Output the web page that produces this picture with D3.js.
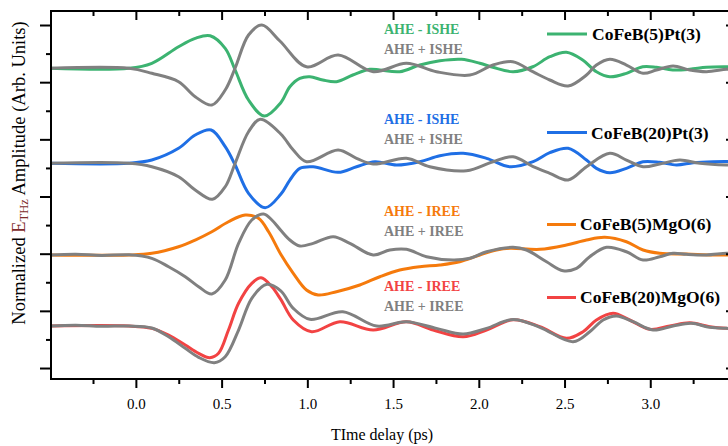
<!DOCTYPE html>
<html><head><meta charset="utf-8">
<script src="https://cdn.jsdelivr.net/npm/d3@7"></script>
<style>
html,body{margin:0;padding:0;background:#fff;}
svg{display:block;font-family:"Liberation Serif","Times New Roman",serif;}
</style></head>
<body><svg id="c" width="728" height="446"></svg>
<script>
// ---- data (time in ps, normalized amplitude incl. vertical offset) ----
const xMajorTicks = [0, 0.5, 1.0, 1.5, 2.0, 2.5, 3.0];
const xMinorTicks = [-0.25, 0.25, 0.75, 1.25, 1.75, 2.25, 2.75, 3.25];
const yMajorTicks = [0, 10, 20, 30, 40, 50, 60];
const yMinorTicks = [5, 15, 25, 35, 45, 55];

const seriesNames = ["CoFeB(5)Pt(3)", "CoFeB(20)Pt(3)", "CoFeB(5)MgO(6)", "CoFeB(20)MgO(6)"];
const diffLabels = ["AHE - ISHE", "AHE - ISHE", "AHE - IREE", "AHE - IREE"];
const sumLabels = ["AHE + ISHE", "AHE + ISHE", "AHE + IREE", "AHE + IREE"];

const green = [[-0.5,52.42],[-0.04,52.42],[0.093,53.30],[0.249,56.20],[0.346,57.67],[0.433,58.13],[0.521,55.92],[0.579,52.13],[0.657,46.88],[0.750,44.08],[0.845,46.4],[0.898,49.20],[0.956,50.67],[1.015,50.95],[1.090,50.38],[1.170,50.08],[1.265,51.25],[1.364,52.25],[1.423,52.13],[1.539,51.83],[1.656,53.00],[1.773,53.75],[1.899,54.00],[2.006,53.30],[2.082,52.60],[2.20,51.83],[2.315,52.70],[2.414,54.45],[2.511,55.22],[2.606,53.87],[2.686,51.83],[2.764,50.95],[2.861,51.55],[2.956,52.70],[3.036,52.60],[3.131,52.13],[3.230,52.25],[3.328,52.60],[3.444,52.70],[3.5,52.7]];
const greySumPt5 = [[-0.5,52.42],[-0.04,52.42],[0.093,51.55],[0.249,50.08],[0.346,47.46],[0.443,46.00],[0.521,48.63],[0.579,52.48],[0.657,58.25],[0.735,60.00],[0.84,57.2],[0.995,52.70],[1.180,54.75],[1.384,51.83],[1.578,53.30],[1.753,51.83],[1.948,51.25],[2.083,53.00],[2.198,53.58],[2.315,51.83],[2.414,50.38],[2.521,49.33],[2.628,51.25],[2.686,53.00],[2.764,54.00],[2.861,53.00],[2.958,51.55],[3.036,52.13],[3.133,52.82],[3.230,52.13],[3.328,51.83],[3.444,52.25],[3.5,52.3]];
const blue = [[-0.5,35.81],[-0.04,35.81],[0.093,36.38],[0.249,38.43],[0.346,40.76],[0.439,41.63],[0.521,38.71],[0.579,35.51],[0.657,30.56],[0.754,28.04],[0.845,30.4],[0.898,32.88],[0.956,34.93],[1.034,35.21],[1.180,34.23],[1.287,35.21],[1.394,36.09],[1.520,35.51],[1.656,36.09],[1.773,37.13],[1.909,37.55],[2.045,36.68],[2.181,35.21],[2.317,36.09],[2.414,37.66],[2.521,38.43],[2.628,36.38],[2.686,34.93],[2.764,34.16],[2.861,34.93],[2.958,36.09],[3.055,35.98],[3.153,35.51],[3.250,35.91],[3.366,36.09],[3.5,36.1]];
const greySumPt20 = [[-0.5,35.81],[-0.04,35.81],[0.093,35.21],[0.249,33.46],[0.346,31.14],[0.446,29.51],[0.521,31.71],[0.579,35.81],[0.657,41.33],[0.726,43.50],[0.845,40.93],[0.918,38.13],[0.995,36.09],[1.180,38.13],[1.287,36.68],[1.384,35.68],[1.578,36.68],[1.714,35.21],[1.928,34.51],[2.083,36.09],[2.2,36.96],[2.317,35.21],[2.414,34.06],[2.521,32.88],[2.628,35.21],[2.764,37.55],[2.861,36.38],[2.958,35.21],[3.055,35.68],[3.172,36.38],[3.289,35.81],[3.444,35.51],[3.5,35.5]];
const orange = [[-0.5,19.77],[-0.04,19.77],[0.093,20.06],[0.249,21.22],[0.346,22.39],[0.443,23.84],[0.540,25.59],[0.637,26.76],[0.715,26.18],[0.774,23.84],[0.845,19.9],[0.918,16.56],[0.995,13.64],[1.063,12.77],[1.170,13.35],[1.306,14.52],[1.423,15.97],[1.539,17.14],[1.656,17.72],[1.773,18.02],[1.889,18.59],[2.006,19.77],[2.103,20.64],[2.181,20.94],[2.356,20.76],[2.511,21.51],[2.628,22.39],[2.735,22.86],[2.861,22.09],[2.958,20.64],[3.055,20.06],[3.211,19.94],[3.366,19.77],[3.5,19.77]];
const greySumMgO5 = [[-0.5,19.77],[-0.35,19.9],[-0.2,19.7],[-0.04,19.8],[0.093,19.19],[0.191,17.72],[0.288,15.97],[0.366,14.22],[0.443,12.94],[0.521,15.39],[0.599,21.81],[0.676,25.89],[0.745,26.94],[0.793,25.89],[0.845,24.1],[0.898,22.39],[0.956,21.34],[1.034,21.81],[1.151,22.97],[1.248,21.81],[1.384,19.77],[1.481,20.64],[1.578,20.76],[1.695,19.47],[1.850,18.89],[1.948,19.19],[2.045,20.34],[2.2,21.11],[2.278,20.64],[2.395,18.59],[2.492,17.02],[2.570,17.44],[2.647,19.47],[2.745,21.11],[2.861,20.34],[2.958,18.89],[3.055,19.47],[3.133,20.06],[3.211,19.88],[3.328,19.77],[3.444,20.06],[3.5,20.0]];
const red = [[-0.5,7.35],[-0.04,7.35],[0.093,6.94],[0.191,5.77],[0.288,4.02],[0.366,2.57],[0.431,1.80],[0.482,2.57],[0.540,6.65],[0.599,11.32],[0.676,14.81],[0.730,15.79],[0.793,14.22],[0.845,12.0],[0.918,8.40],[1.025,6.35],[1.190,8.10],[1.384,6.65],[1.578,8.10],[1.734,6.65],[1.909,5.47],[2.045,6.65],[2.2,8.45],[2.356,7.23],[2.511,5.19],[2.608,6.35],[2.686,8.40],[2.783,9.57],[2.880,8.40],[2.997,6.77],[3.114,7.35],[3.230,7.92],[3.347,7.23],[3.444,6.94],[3.5,6.9]];
const greySumMgO20 = [[-0.5,7.35],[-0.35,7.5],[-0.2,7.3],[-0.04,7.35],[0.093,7.0],[0.191,5.47],[0.288,3.44],[0.366,1.87],[0.458,0.93],[0.521,1.98],[0.599,6.65],[0.676,12.19],[0.764,14.64],[0.845,13.5],[0.918,10.44],[1.015,8.52],[1.207,9.85],[1.404,7.35],[1.578,8.10],[1.753,6.94],[1.909,5.95],[2.045,6.94],[2.2,8.5],[2.356,7.12],[2.550,4.60],[2.647,6.35],[2.725,8.40],[2.803,9.10],[2.900,8.10],[3.016,6.65],[3.133,7.35],[3.240,7.81],[3.347,7.12],[3.444,6.94],[3.5,6.9]];

const colors = ["#3cb371", "#1f6fe5", "#f57a0c", "#f24343"];
const grey = "#808080";

// ---- layout ----
const svg = d3.select("#c");
const L = 51, R = 736, T = 11, B = 379;
const x = d3.scaleLinear().domain([-0.495, 3.5]).range([L, R]);
const y = d3.scaleLinear().domain([-1.92, 62.45]).range([B, T]);

const line = d3.line().x(d => x(d[0])).y(d => y(d[1])).curve(d3.curveCatmullRom.alpha(0.5));

const plot = svg.append("g");
const colored = [green, blue, orange, red];
const greys = [greySumPt5, greySumPt20, greySumMgO5, greySumMgO20];
colored.forEach((s, i) => {
  plot.append("path").datum(s).attr("d", line).attr("fill", "none")
    .attr("stroke", colors[i]).attr("stroke-width", 3).attr("stroke-linejoin", "round");
});
greys.forEach((s, i) => {
  plot.append("path").datum(s).attr("d", line).attr("fill", "none")
    .attr("stroke", grey).attr("stroke-width", 3).attr("stroke-linejoin", "round");
});

// ---- axes ----
function styleAxis(g, labels) {
  g.select(".domain").remove();
  g.selectAll(".tick line").attr("stroke", "#000").attr("stroke-width", 2);
  if (!labels) g.selectAll(".tick text").remove();
}
const fmt = d3.format(".1f");
svg.append("g").attr("transform", `translate(0,${B})`)
  .call(d3.axisBottom(x).tickValues(xMajorTicks).tickSize(9).tickPadding(10).tickFormat(fmt))
  .call(g => { styleAxis(g, true); g.selectAll(".tick text").attr("font-family", "Liberation Serif").attr("font-size", 15).attr("fill", "#000"); });
svg.append("g").attr("transform", `translate(0,${B})`)
  .call(d3.axisBottom(x).tickValues(xMinorTicks).tickSize(5)).call(g => styleAxis(g, false));
svg.append("g").attr("transform", `translate(0,${T})`)
  .call(d3.axisTop(x).tickValues(xMajorTicks).tickSize(-9)).call(g => styleAxis(g, false));
svg.append("g").attr("transform", `translate(0,${T})`)
  .call(d3.axisTop(x).tickValues(xMinorTicks).tickSize(-5)).call(g => styleAxis(g, false));
svg.append("g").attr("transform", `translate(${L},0)`)
  .call(d3.axisLeft(y).tickValues(yMajorTicks).tickSize(11)).call(g => styleAxis(g, false));
svg.append("g").attr("transform", `translate(${L},0)`)
  .call(d3.axisLeft(y).tickValues(yMinorTicks).tickSize(5)).call(g => styleAxis(g, false));
svg.append("g").attr("transform", `translate(${R},0)`)
  .call(d3.axisLeft(y).tickValues(yMajorTicks).tickSize(10)).call(g => styleAxis(g, false));
svg.append("g").attr("transform", `translate(${R},0)`)
  .call(d3.axisLeft(y).tickValues(yMinorTicks).tickSize(5)).call(g => styleAxis(g, false));

svg.append("rect").attr("x", L).attr("y", T).attr("width", R - L).attr("height", B - T)
  .attr("fill", "none").attr("stroke", "#000").attr("stroke-width", 2);

// ---- axis titles ----
svg.append("text").attr("x", 382).attr("y", 440).attr("text-anchor", "middle")
  .attr("font-size", 16).attr("fill", "#000").text("TIme delay (ps)");

const yt = svg.append("text").attr("transform", "translate(25,173) rotate(-90)")
  .attr("text-anchor", "middle").attr("font-size", 18.5).attr("fill", "#000");
yt.append("tspan").text("Normalized  ");
yt.append("tspan").attr("fill", "#7d2a2a").text("E");
yt.append("tspan").attr("fill", "#7d2a2a").attr("font-size", 12.5).attr("dy", 3).text("THz");
yt.append("tspan").attr("dy", -3).text(" Amplitude (Arb. Units)");

// ---- in-plot labels ----
const labelX = 384;
const diffY = [33.5, 124, 216, 291];
const sumY = [53.5, 144, 236, 310.5];
diffLabels.forEach((t, i) => {
  svg.append("text").attr("x", labelX).attr("y", diffY[i]).attr("font-size", 14)
    .attr("font-weight", "bold").attr("fill", colors[i]).text(t);
  svg.append("text").attr("x", labelX).attr("y", sumY[i]).attr("font-size", 14)
    .attr("font-weight", "bold").attr("fill", grey).text(sumLabels[i]);
});

// ---- legends ----
const legLineY = [34, 132.5, 224.5, 297.5];
const legLineEnd = [587, 587, 576, 576];
const legTextX = [592, 591, 580, 580];
const legTextY = [40, 138.5, 230, 303];
seriesNames.forEach((n, i) => {
  svg.append("line").attr("x1", 547).attr("x2", legLineEnd[i]).attr("y1", legLineY[i]).attr("y2", legLineY[i])
    .attr("stroke", colors[i]).attr("stroke-width", 3);
  svg.append("text").attr("x", legTextX[i]).attr("y", legTextY[i]).attr("font-size", 17.5)
    .attr("font-weight", "bold").attr("fill", "#000").text(n);
});
</script></body></html>
